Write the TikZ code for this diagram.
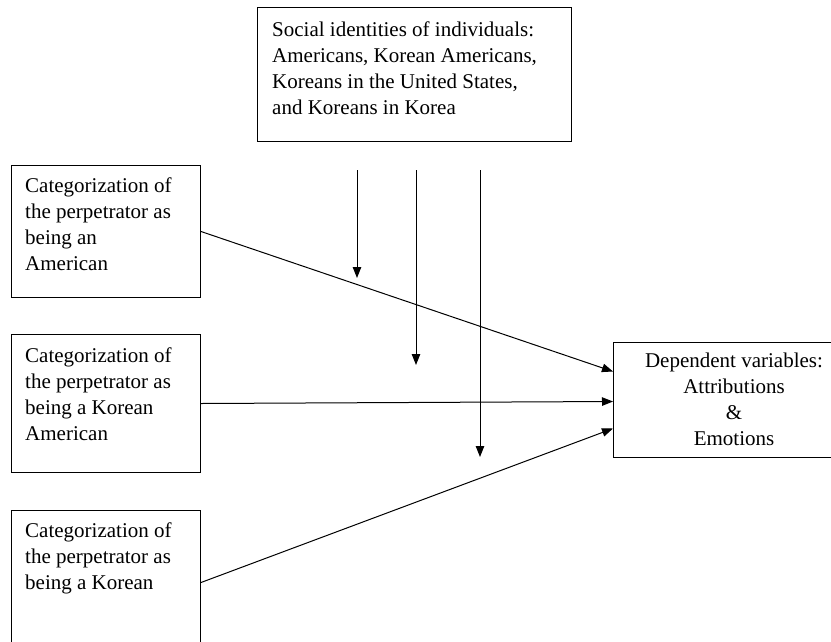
\documentclass[tikz,border=0pt]{standalone}
\usepackage{fontspec}
\setmainfont{Liberation Serif}
\usetikzlibrary{arrows.meta,calc}
\begin{document}
\begin{tikzpicture}[x=1pt,y=-1pt,
  box/.style={draw,line width=1pt,inner sep=0pt,anchor=north west},
  txt/.style={inner sep=0pt,font=\fontsize{21}{26}\selectfont},
  conn/.style={line width=1pt,-{Triangle[length=11pt,width=8.5pt]}}]
\useasboundingbox (0,0) rectangle (831,641);
\clip (0,0) rectangle (831,641);
% boxes
\node[box,minimum width=314pt,minimum height=134pt] (top) at (257,7) {};
\node[box,minimum width=189pt,minimum height=132pt] (b1) at (11,165) {};
\node[box,minimum width=189pt,minimum height=138pt] (b2) at (11,334) {};
\node[box,minimum width=189pt,minimum height=144pt] (b3) at (11,510) {};
\node[box,minimum width=240pt,minimum height=115pt] (dv) at (613,342) {};
% texts
\node[txt,align=left,anchor=north west] (ttop) at (272,22) {Social identities of individuals:\\Americans, Korean Americans,\\Koreans in the United States,\\and Koreans in Korea};
\node[txt,align=left,anchor=north west] (t1) at (25,178) {Categorization of\\the perpetrator as\\being an\\American};
\node[txt,align=left,anchor=north west] (t2) at (25,348) {Categorization of\\the perpetrator as\\being a Korean\\American};
\node[txt,align=left,anchor=north west] (t3) at (25,523) {Categorization of\\the perpetrator as\\being a Korean};
\node[txt,align=center,anchor=north] (tdv) at (734,353) {Dependent variables:\\Attributions\\\&\\Emotions};
% moderator arrows
\coordinate (m1s) at (357,170); \coordinate (m1e) at (357,278);
\coordinate (m2s) at (416,170); \coordinate (m2e) at (416,365);
\coordinate (m3s) at (480,170); \coordinate (m3e) at (480,457);
\draw[conn] (m1s) -- (m1e);
\draw[conn] (m2s) -- (m2e);
\draw[conn] (m3s) -- (m3e);
% main arrows
\draw[conn] (b1.east) -- ($(dv.west)+(0,-28.5)$);
\draw[conn] (b2.east) -- ($(dv.west)+(0,1.5)$);
\draw[conn] (b3.east) -- ($(dv.west)+(0,28.5)$);
\end{tikzpicture}
\end{document}
